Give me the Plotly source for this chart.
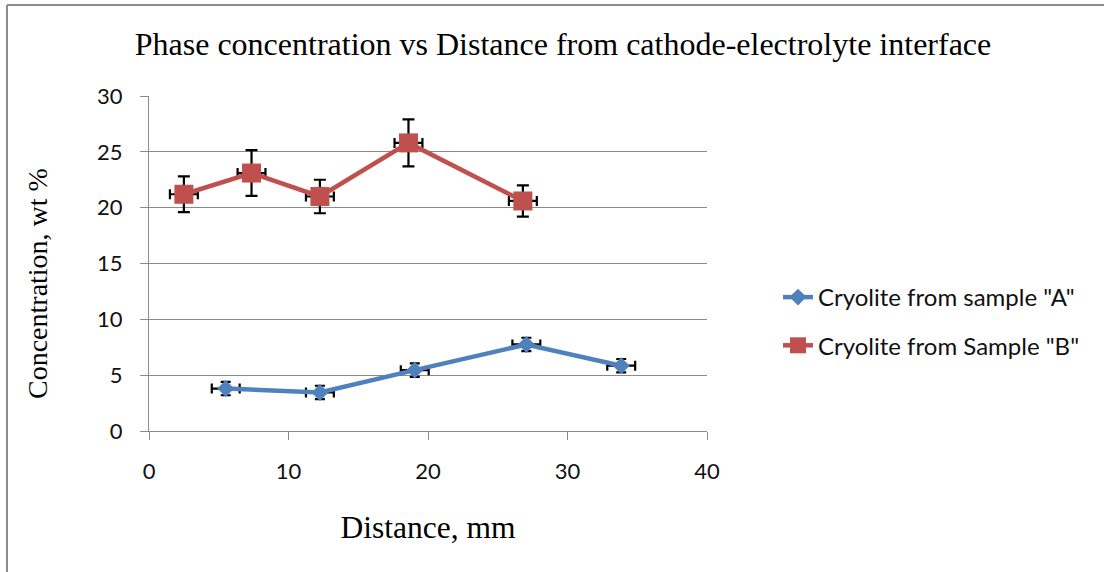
import plotly.graph_objects as go

# Sample "A" measurements
dist_a = [5.5, 12.25, 19.05, 27.05, 33.85]
conc_a = [3.8, 3.45, 5.45, 7.75, 5.85]
conc_err_a = [0.6, 0.6, 0.6, 0.6, 0.6]
dist_err_a = [1.0, 1.0, 1.0, 1.0, 1.0]

# Sample "B" measurements
dist_b = [2.5, 7.35, 12.25, 18.6, 26.8]
conc_b = [21.2, 23.1, 21.0, 25.8, 20.6]
conc_err_b = [1.6, 2.05, 1.5, 2.1, 1.4]
dist_err_b = [1.0, 1.0, 1.0, 1.0, 1.0]

name_a = 'Cryolite from sample "A"'
name_b = 'Cryolite from Sample "B"'

BLUE = "#4F81BD"
RED = "#C0504D"
GRID = "#8a8a8a"
SERIF = "Liberation Serif, Times New Roman, serif"
SANS = "Lato, Carlito, Calibri, sans-serif"

# plot-area geometry in pixels
W, H = 1104, 572
L, R, T, B = 149, 397, 96, 141
pw, ph = W - L - R, H - T - B


def px_to_paper_x(px):
    return (px - L) / pw


def px_to_paper_y(py):
    return (H - B - py) / ph


fig = go.Figure()

fig.add_trace(go.Scatter(
    x=dist_a, y=conc_a, name=name_a, mode="lines+markers",
    line=dict(color=BLUE, width=4.5),
    marker=dict(symbol="diamond", size=13, color=BLUE),
    error_y=dict(type="data", array=conc_err_a, color="black", thickness=2.2, width=5),
    error_x=dict(type="data", array=dist_err_a, color="black", thickness=2.2, width=5),
    legendgroup="a",
))

fig.add_trace(go.Scatter(
    x=dist_b, y=conc_b, name=name_b, mode="lines+markers",
    line=dict(color=RED, width=4.5),
    marker=dict(symbol="square", size=19, color=RED),
    error_y=dict(type="data", array=conc_err_b, color="black", thickness=2.2, width=6),
    error_x=dict(type="data", array=dist_err_b, color="black", thickness=2.2, width=5),
    legendgroup="b",
))

# chart frame (left and top edges)
frame = dict(color="#8c8c8c", width=2)
fig.add_shape(type="line", xref="paper", yref="paper",
              x0=px_to_paper_x(7), x1=px_to_paper_x(7),
              y0=px_to_paper_y(H + 5), y1=px_to_paper_y(5), line=frame)
fig.add_shape(type="line", xref="paper", yref="paper",
              x0=px_to_paper_x(7), x1=px_to_paper_x(W + 5),
              y0=px_to_paper_y(5), y1=px_to_paper_y(5), line=frame)

# vertical axis title
fig.add_annotation(
    text="Concentration, wt %", textangle=-90, showarrow=False,
    xref="paper", yref="paper",
    x=px_to_paper_x(37), y=px_to_paper_y(284), xanchor="center", yanchor="middle",
    font=dict(family=SERIF, size=28, color="black"),
)

fig.update_layout(
    width=W, height=H,
    margin=dict(l=L, r=R, t=T, b=B, autoexpand=False),
    paper_bgcolor="white", plot_bgcolor="white",
    title=dict(
        text="Phase concentration vs Distance from cathode-electrolyte interface",
        font=dict(family=SERIF, size=32, color="black"),
        xref="container", yref="container",
        x=563 / W, y=1 - 44 / H, xanchor="center", yanchor="middle",
    ),
    xaxis=dict(
        range=[0, 40], dtick=10, tick0=0,
        showgrid=False, zeroline=False,
        showline=True, linecolor=GRID, linewidth=1,
        ticks="outside", ticklen=8, tickcolor=GRID, tickwidth=1,
        ticklabelstandoff=13,
        tickfont=dict(family=SANS, size=22, color="#111"),
        title=dict(text="Distance, mm", font=dict(family=SERIF, size=31.5, color="black"), standoff=32),
    ),
    yaxis=dict(
        range=[0, 30], dtick=5, tick0=0,
        showgrid=True, gridcolor=GRID, gridwidth=1,
        zeroline=False,
        showline=True, linecolor=GRID, linewidth=1,
        ticks="outside", ticklen=8, tickcolor=GRID, tickwidth=1,
        ticklabelstandoff=13,
        tickfont=dict(family=SANS, size=22, color="#111"),
    ),
    legend=dict(
        x=px_to_paper_x(778), y=px_to_paper_y(275), xanchor="left", yanchor="top",
        font=dict(family=SANS, size=24, color="#111"),
        traceorder="grouped", tracegroupgap=14,
        bgcolor="rgba(0,0,0,0)", borderwidth=0,
    ),
    showlegend=True,
)

fig.write_html("out.html")
